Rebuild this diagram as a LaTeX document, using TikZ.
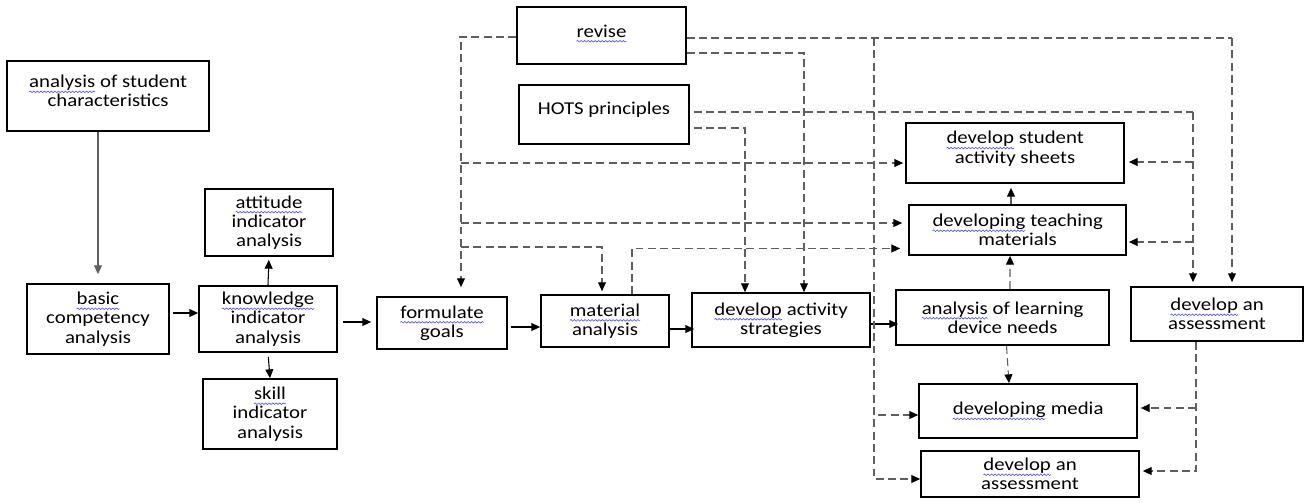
\documentclass[tikz,border=0pt]{standalone}
\usepackage{fontspec}
\setmainfont{Carlito}[FakeStretch=1.15]
\usepackage{tikz}
\usetikzlibrary{arrows.meta, positioning, decorations.pathmorphing}
\definecolor{lijngrijs}{RGB}{95,95,95}
\newcommand{\squig}[1]{\tikz[baseline=(sq.base)]{\node[inner sep=0pt, outer sep=0pt, minimum width=0pt, minimum height=0pt] (sq) {#1};
	\draw[blue!70, line width=0.35pt, solid, decorate, decoration={snake, amplitude=0.45pt, segment length=2pt}] ([yshift=-2.4pt]sq.base west) -- ([yshift=-2.4pt]sq.base east);}}
\tikzset{>={Triangle[length=5pt, width=4.5pt]}}
\tikzset{blok/.style={draw, line width=1pt, align=center, inner sep=1pt, font=\fontsize{10.3}{11}\selectfont},
	hoog/.style={text depth=#1},
	pijl/.style={->, line width=0.6pt},
	dline/.style={lijngrijs, line width=0.6pt, dash pattern=on 4.5pt off 2.5pt},
	dpijl/.style={dline, -{Triangle[length=5pt, width=4.5pt, black]}}}

\begin{document}
\begin{tikzpicture}
			\useasboundingbox (0,0) rectangle (26.12,-10.04);
			% boxes
			\node[blok, hoog=5.7pt, minimum width=4.04cm, minimum height=1.40cm] (stud) at (2.16,-1.92) {\squig{analysis} of student\\characteristics};
			\node[blok, minimum width=2.56cm, minimum height=1.34cm] (att) at (5.38,-4.45) {\squig{attitude}\\indicator\\analysis};
			\node[blok, minimum width=2.84cm, minimum height=1.40cm] (basic) at (1.96,-6.38) {\squig{basic}\\competency\\analysis};
			\node[blok, minimum width=2.76cm, minimum height=1.32cm] (know) at (5.36,-6.38) {\squig{knowledge}\\indicator\\analysis};
			\node[blok, minimum width=2.68cm, minimum height=1.40cm] (skill) at (5.40,-8.28) {\squig{skill}\\indicator\\analysis};
			\node[blok, minimum width=2.60cm, minimum height=1.04cm] (goals) at (8.84,-6.46) {\squig{formulate}\\goals};
			\node[blok, minimum width=2.56cm, minimum height=1.04cm] (mat) at (12.10,-6.42) {\squig{material}\\analysis};
			\node[blok, minimum width=3.56cm, minimum height=1.08cm] (strat) at (15.62,-6.40) {\squig{develop} activity\\strategies};
			\node[blok, minimum width=4.26cm, minimum height=1.10cm] (needs) at (20.05,-6.35) {\squig{analysis} of learning\\device needs};
			\node[blok, minimum width=3.44cm, minimum height=1.08cm] (assessR) at (24.34,-6.28) {\squig{develop} an\\assessment};
			\node[blok, minimum width=4.36cm, minimum height=1.08cm] (media) at (20.56,-8.22) {\squig{developing} media};
			\node[blok, minimum width=4.36cm, minimum height=0.92cm] (assessB) at (20.60,-9.48) {\squig{develop} an\\assessment};
			\node[blok, hoog=6.5pt, minimum width=4.36cm, minimum height=1.20cm] (sheets) at (20.30,-3.06) {\squig{develop} student\\activity sheets};
			\node[blok, minimum width=4.34cm, minimum height=1.00cm] (teach) at (20.35,-4.60) {\squig{developing} teaching\\materials};
			\node[blok, hoog=5.3pt, minimum width=3.38cm, minimum height=1.14cm] (revise) at (12.03,-0.71) {\squig{revise}};
			\node[blok, hoog=7.7pt, minimum width=3.40cm, minimum height=1.18cm] (hots) at (12.08,-2.29) {HOTS principles};

			% main flow
			\draw[pijl, lijngrijs, shorten >=0.18cm] (stud.south -| basic.north) -- (basic.north);
			\draw[pijl, shorten <=0.06cm] ([yshift=0.12cm]basic.east) -- ([yshift=0.12cm]know.west);
			\draw[pijl, shorten >=0.06cm] (know.north) -- (att.south);
			\draw[pijl, shorten <=0.08cm] (know.south) -- (skill.north);
			\draw[pijl, shorten <=0.1cm, shorten >=0.1cm] ([yshift=-0.06cm]know.east) -- ([yshift=0.02cm]goals.west);
			\draw[pijl, shorten <=0.06cm] ([yshift=-0.08cm]goals.east) -- ([yshift=-0.08cm]goals.east -| mat.west);
			\draw[pijl, shorten <=-0.04cm, shorten >=-0.06cm] ([yshift=-0.16cm]mat.east) -- ([yshift=-0.16cm]mat.east -| strat.west);
			\draw[pijl, shorten >=-0.06cm] ([yshift=-0.08cm]strat.east) -- ([yshift=-0.08cm]strat.east -| needs.west);

			% revise, left
			\coordinate (lbh) at (9.10,-0.74);
			\coordinate (lb) at (9.22,-0.84);
			\coordinate (b1) at (9.22,-3.26);
			\coordinate (b2) at (9.22,-4.46);
			\coordinate (b3) at (9.22,-4.94);
			\coordinate (m1) at (12.64,-4.97);
			\draw[dline] (revise.west |- lbh) -- (lbh);
			\draw[dpijl, shorten >=0.18cm] (lb) -- (lb |- goals.north);
			\draw[dpijl, shorten >=0.04cm] (b1) -- (b1 -| sheets.west);
			\draw[dpijl, shorten >=0.12cm] (b2) -- (b2 -| teach.west);
			\draw[dpijl, shorten >=0.06cm] (b3) -| ([xshift=-0.06cm]mat.north);
			\draw[dpijl, shorten >=0.16cm] (m1 |- mat.north) -- (m1) -- (m1 -| teach.west);

			% revise, right
			\coordinate (r1) at (24.64,-0.76);
			\coordinate (r2) at (17.48,-0.76);
			\coordinate (r3) at (16.08,-1.06);
			\draw[dline] (revise.east |- r1) -- (r1);
			\draw[dpijl, shorten >=0.08cm] (r1) -- (r1 |- assessR.north);
			\draw[dpijl] (r2) |- ([yshift=-0.08cm]media.west);
			\draw[dpijl] (r2) |- ([yshift=-0.10cm]assessB.west);
			\draw[dpijl] (revise.east |- r3) -- (r3) -- (r3 |- strat.north);

			% HOTS
			\coordinate (h1) at (23.86,-2.24);
			\coordinate (h1a) at (23.86,-3.24);
			\coordinate (h1b) at (23.86,-4.84);
			\coordinate (h2) at (14.90,-2.56);
			\draw[dline, shorten <=0.08cm] (hots.east |- h1) -- (h1);
			\draw[dpijl, shorten >=0.08cm] (h1) -- (h1 |- assessR.north);
			\draw[dpijl, shorten >=0.08cm] (h1a) -- (h1a -| sheets.east);
			\draw[dpijl, shorten >=0.04cm] (h1b) -- (h1b -| teach.east);
			\draw[dpijl, shorten <=0.08cm] (hots.east |- h2) -- (h2) -- (h2 |- strat.north);

			% products
			\draw[dpijl] ([xshift=0.15cm]needs.north) -- ([xshift=-0.15cm]teach.south);
			\draw[dpijl, shorten >=0.08cm] ([xshift=-0.13cm]teach.north) -- ([xshift=-0.08cm]sheets.south);
			\draw[dpijl] ([xshift=0.08cm]needs.south) -- ([xshift=-0.38cm]media.north);
			\coordinate (a1) at (23.92,-9.42);
			\coordinate (a2) at (23.92,-8.16);
			\draw[dpijl, shorten >=0.06cm] (assessR.south -| a1) -- (a1) -- (a1 -| assessB.east);
			\draw[dpijl, shorten >=0.06cm] (a2) -- (a2 -| media.east);
		\end{tikzpicture}
\end{document}
